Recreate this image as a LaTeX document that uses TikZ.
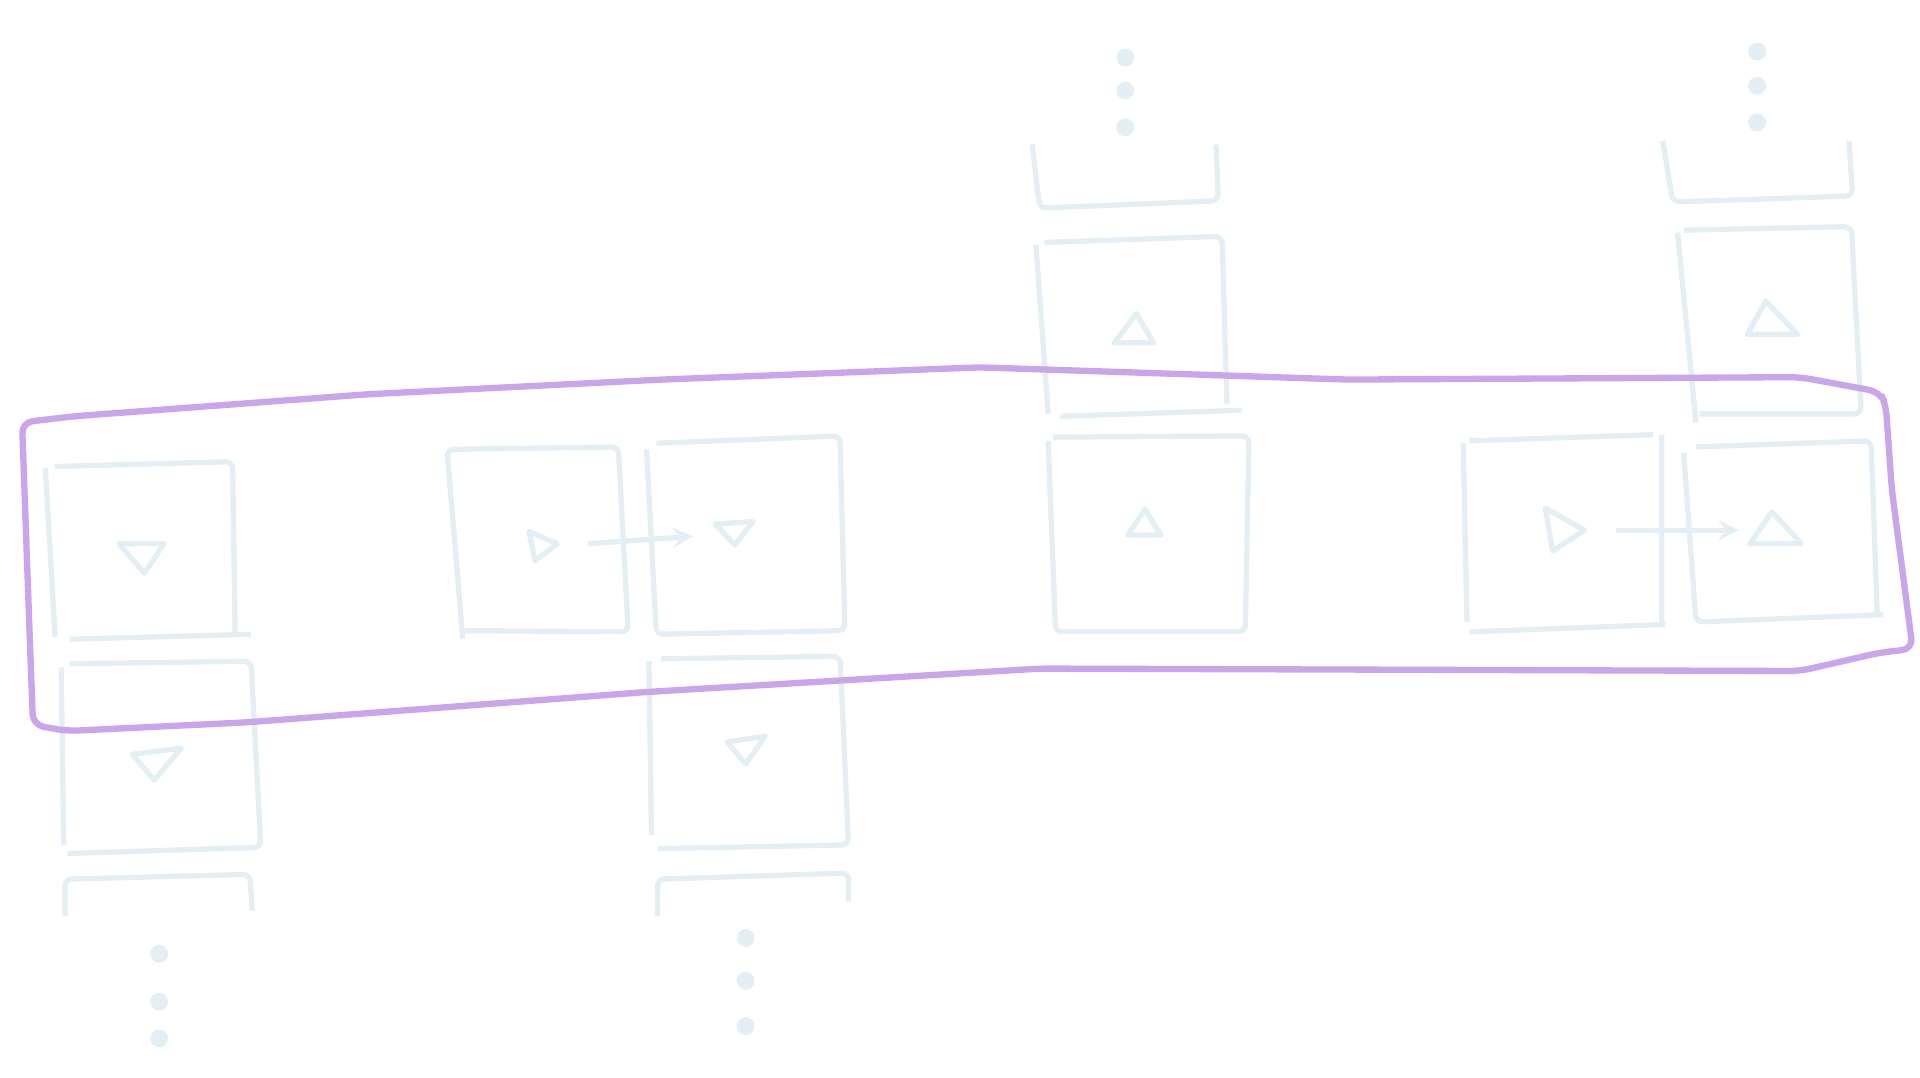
\documentclass[tikz,border=0pt]{standalone}
\usetikzlibrary{calc,arrows}
\definecolor{pale}{HTML}{E3EEF5}
\definecolor{hull}{HTML}{C9A5EC}
\begin{document}
\begin{tikzpicture}[x=0.012245cm,y=-0.012245cm,
  cell/.style={draw=pale,line width=1.5pt,rounded corners=2pt},
  tri/.style={draw=pale,line width=1.5pt,line join=round},
  dot/.style={circle,fill=pale,inner sep=1.8pt}]
\useasboundingbox (0,0) rectangle (1568,880);
% column one
\draw[cell] (37,382) -- (45,520) (57,522) -- (205,518) (192,518) -- (190,377) -- (45,381);
\draw[tri] (97,444) -- (134,444) -- (118,468) -- cycle;
\draw[cell] (57,542) -- (205,540) -- (213,692) -- (55,697) (50,545) -- (52,690);
\draw[tri] (108,616) -- (148,611) -- (126,637) -- cycle;
\draw[cell] (53,748) -- (53,718) -- (204,714) -- (206,744);
\foreach \y [count=\i] in {779,818,848} \node[dot] (da\i) at (130,\y) {};
% column two
\draw[cell] (378,522) -- (365,367) -- (505,365) -- (513,516) -- (380,515);
\draw[tri] (432,434) -- (455,444) -- (437,458) -- cycle;
\draw[cell] (528,367) -- (536,518) -- (690,515) -- (686,356) -- (536,362);
\draw[tri] (584,428) -- (615,426) -- (600,445) -- cycle;
\coordinate (s2) at (480,444); \coordinate (t2) at (566,438);
\draw[tri,->,>=stealth] (s2) -- (t2);
\draw[cell] (540,538) -- (686,536) -- (693,690) -- (537,693) (530,540) -- (532,682);
\draw[tri] (594,606) -- (625,601) -- (609,624) -- cycle;
\draw[cell] (537,748) -- (537,718) -- (693,713) -- (693,736);
\foreach \y [count=\i] in {766,801,838} \node[dot] (db\i) at (609,\y) {};
% column three
\foreach \y [count=\i] in {47,74,104} \node[dot] (dc\i) at (919,\y) {};
\draw[cell] (843,118) -- (849,170) -- (995,164) -- (993,118);
\draw[cell] (846,200) -- (856,338) (866,340) -- (1014,335) (1002,330) -- (998,193) -- (853,198);
\draw[tri] (910,280) -- (928,256) -- (942,280) -- cycle;
\draw[cell] (856,360) -- (862,516) -- (1017,516) -- (1020,356) -- (860,357);
\draw[tri] (921,437) -- (935,416) -- (948,437) -- cycle;
% column four
\foreach \y [count=\i] in {42,70,100} \node[dot] (dd\i) at (1435,\y) {};
\draw[cell] (1358,115) -- (1366,165) -- (1513,160) -- (1510,115);
\draw[cell] (1370,190) -- (1385,345) (1388,338) -- (1520,338) -- (1512,185) -- (1375,188);
\draw[tri] (1427,273) -- (1442,246) -- (1468,273) -- cycle;
\draw[cell] (1195,362) -- (1198,508) (1200,516) -- (1360,510) (1357,355) -- (1357,508) (1200,360) -- (1350,355);
\draw[tri] (1262,415) -- (1294,433) -- (1268,450) -- cycle;
\coordinate (s4) at (1320,433); \coordinate (t4) at (1420,433);
\draw[tri,->,>=stealth] (s4) -- (t4);
\draw[cell] (1375,370) -- (1385,508) -- (1538,502) (1385,365) -- (1528,360) -- (1533,500);
\draw[tri] (1429,444) -- (1447,418) -- (1471,444) -- cycle;
% hull
\draw[hull,line width=1.8pt,rounded corners=3pt]
  (18,345) -- (60,340) -- (300,322) -- (540,310) -- (800,300)
  -- (1100,310) -- (1470,308) -- (1535,320) -- (1540,330) -- (1545,400) -- (1562,530)
  -- (1535,533) -- (1470,548) -- (850,546) -- (530,565) -- (200,590)
  -- (55,597) -- (27,592) -- (25,540) -- cycle;
\end{tikzpicture}
\end{document}
